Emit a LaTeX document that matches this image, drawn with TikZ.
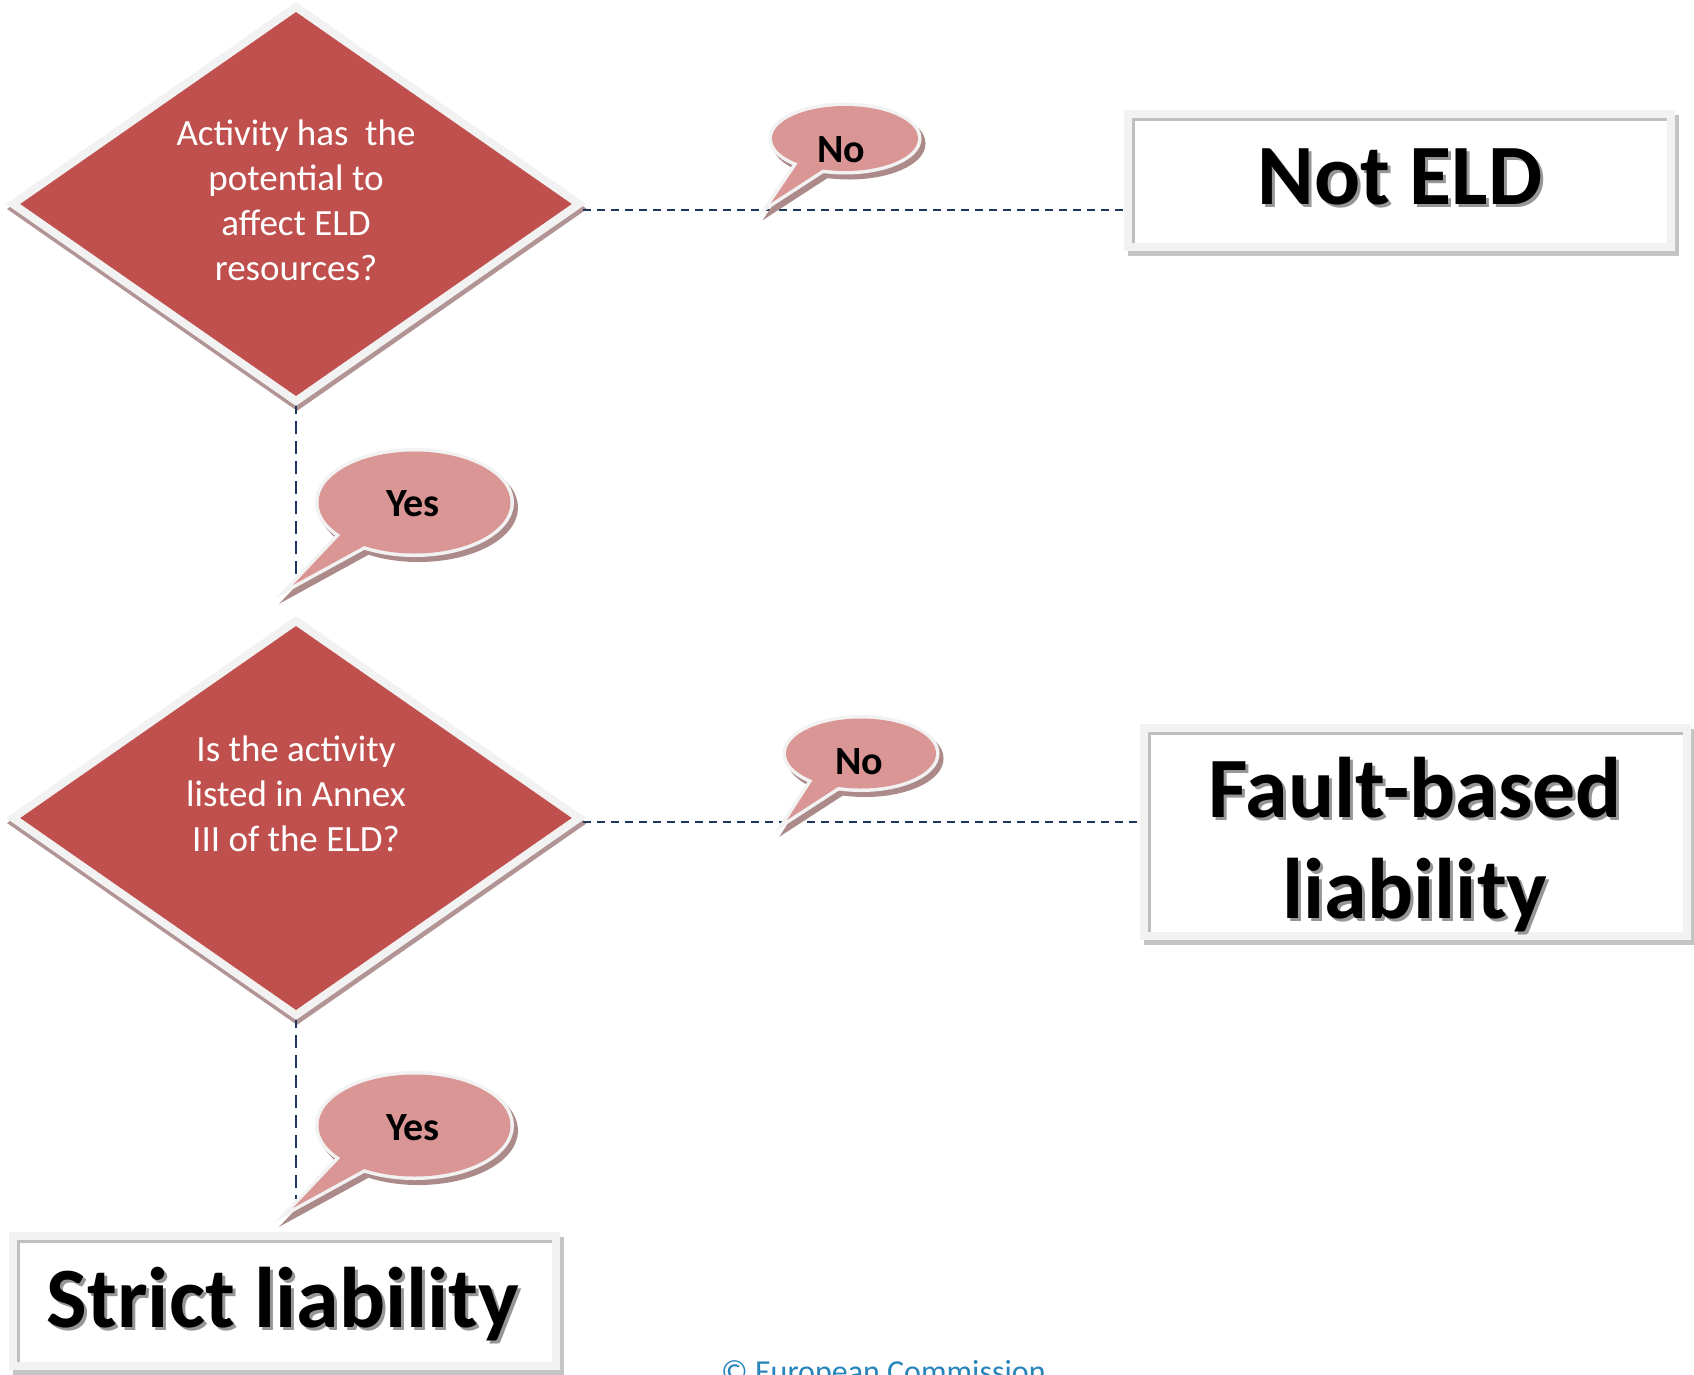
\documentclass[tikz,border=0pt]{standalone}
\usepackage{fontspec}
\setmainfont{Carlito}
\usetikzlibrary{shapes.geometric,backgrounds,calc}
\definecolor{dred}{HTML}{C0504D}
\definecolor{bord}{HTML}{F2F2F2}
\definecolor{bpink}{HTML}{D99694}
\definecolor{bshade}{RGB}{172,138,138}
\definecolor{dshade}{RGB}{178,148,148}
\definecolor{boxsh}{HTML}{C4C4C4}
\definecolor{inl}{HTML}{BFBFBF}
\definecolor{navy}{RGB}{30,55,95}
\definecolor{copyc}{RGB}{38,132,186}
\definecolor{txtsh}{RGB}{150,150,150}
\newcommand{\mybubble}[6]{%
 \begin{scope}[shift={(4,5)}]
  \filldraw[bshade, line width=7pt] (#1) ellipse [x radius=#2, y radius=#3];
  \filldraw[bshade, line width=7pt] (#4) -- (#6) -- (#5) -- cycle;
 \end{scope}
 \filldraw[bord, line width=7pt] (#1) ellipse [x radius=#2, y radius=#3];
 \filldraw[bord, line width=7pt] (#4) -- (#6) -- (#5) -- cycle;
 \fill[bpink] (#1) ellipse [x radius=#2, y radius=#3];
 \fill[bpink] (#4) -- (#6) -- (#5) -- cycle;
}
\tikzset{
 dia/.style={shape=diamond, minimum width=566pt, minimum height=394pt, inner sep=0pt, outer sep=0pt, fill=dred, draw=bord, line width=8pt},
 rbox/.style={rectangle, inner sep=0pt, outer sep=0pt, fill=white, draw=bord, line width=8pt, minimum width=543pt},
 qtxt/.style={text=white, align=center, inner sep=0pt, font=\fontsize{37}{45}\selectfont},
 btxt/.style={font=\bfseries\fontsize{40}{48}\selectfont, text=black, inner sep=0pt},
 bigtxt/.style={font=\bfseries\fontsize{86}{101}\selectfont, align=center, inner sep=0pt},
 conn/.style={draw=navy, line width=2.6pt, dash pattern=on 8pt off 6pt},
 vconn/.style={draw=navy, line width=2.6pt, dash pattern=on 13pt off 7pt},
 boxshadow/.style={draw=boxsh, line width=8pt},
 inline/.style={draw=inl, line width=3pt},
 diashadow/.style={fill=dshade, draw=dshade, line width=8pt},
}
\begin{document}
\begin{tikzpicture}[x=1pt,y=-1pt]
\useasboundingbox (0,0) rectangle (1694,1374);
\clip (0,0) rectangle (1694,1374);

% decision diamonds
\node[dia] (d1) at (296,204) {};
\node[qtxt] (t1) at (296,200) {Activity has\ \ the\\potential to\\affect ELD\\resources?};
\node[dia] (d2) at (296,818) {};
\node[qtxt] (t2) at (296,794) {Is the activity\\listed in Annex\\III of the ELD?};

% outcome boxes
\node[rbox, minimum height=133pt] (nb) at (1399.5,180.5) {};
\node[rbox, minimum height=208pt] (fb) at (1415.5,832) {};
\node[rbox, minimum height=130pt] (sb) at (284.5,1301) {};
\foreach \b in {nb,fb,sb}{
 \draw[inline] ($(\b.south west)+(5.5,-4)$) -- ($(\b.north west)+(5.5,5.5)$) -- ($(\b.north east)+(-4,5.5)$);
}
\node[bigtxt, text=txtsh] (nbs) at (1403,180) {Not ELD};
\node[bigtxt] (nbt) at (1400,177) {Not ELD};
\node[bigtxt, text=txtsh] (fbs) at (1418,848) {Fault-based\\liability};
\node[bigtxt] (fbt) at (1415,845) {Fault-based\\liability};
\node[bigtxt, text=txtsh] (sbs) at (286,1307) {Strict liability};
\node[bigtxt] (sbt) at (283,1304) {Strict liability};

\coordinate (c1) at ($(d1.east)+(4,6)$);
\coordinate (c2) at ($(d2.east)+(4,4)$);
\coordinate (v1) at (296,576);
\coordinate (v2) at (296,1199);

\begin{pgfonlayer}{background}
 \fill[white] (0,0) rectangle (1694,1374);
 \path[diashadow] ($(d1.north)+(1,5)$) -- ($(d1.east)+(1,5)$) -- ($(d1.south)+(1,5)$) -- ($(d1.west)+(1,5)$) -- cycle;
 \path[diashadow] ($(d2.north)+(1,5)$) -- ($(d2.east)+(1,5)$) -- ($(d2.south)+(1,5)$) -- ($(d2.west)+(1,5)$) -- cycle;
 \foreach \b in {nb,fb,sb}{
  \draw[boxshadow] ($(\b.north west)+(4,5)$) rectangle ($(\b.south east)+(4,5)$);
 }
 \draw[conn] (c1) -- (c1 -| nb.west);
 \draw[conn] (c2) -- (c2 -| fb.west);
 \draw[vconn] (d1.south) -- (v1);
 \draw[vconn] (d2.south) -- (v2);
\end{pgfonlayer}

% speech bubbles
\mybubble{845,138.5}{73}{32.5}{800,160}{828,166}{771,203}
\node[btxt] (no1) at (841,150) {No};
\mybubble{414.5,502.5}{96}{51}{345,530}{375,540}{293,585}
\node[btxt] (yes1) at (413,504) {Yes};
\begin{scope}[shift={(16,615)}]
\mybubble{845,138.5}{75}{35}{800,160}{828,168}{771,205}
\end{scope}
\node[btxt] (no2) at (859,762) {No};
\begin{scope}[shift={(0,623)}]
\mybubble{414.5,502.5}{96}{51}{345,530}{375,540}{293,585}
\end{scope}
\node[btxt] (yes2) at (413,1128) {Yes};

\node[anchor=base west, inner sep=0pt, text=copyc, font=\fontsize{32}{38}\selectfont] (cp) at (721,1382) {© European Commission};
\end{tikzpicture}
\end{document}
